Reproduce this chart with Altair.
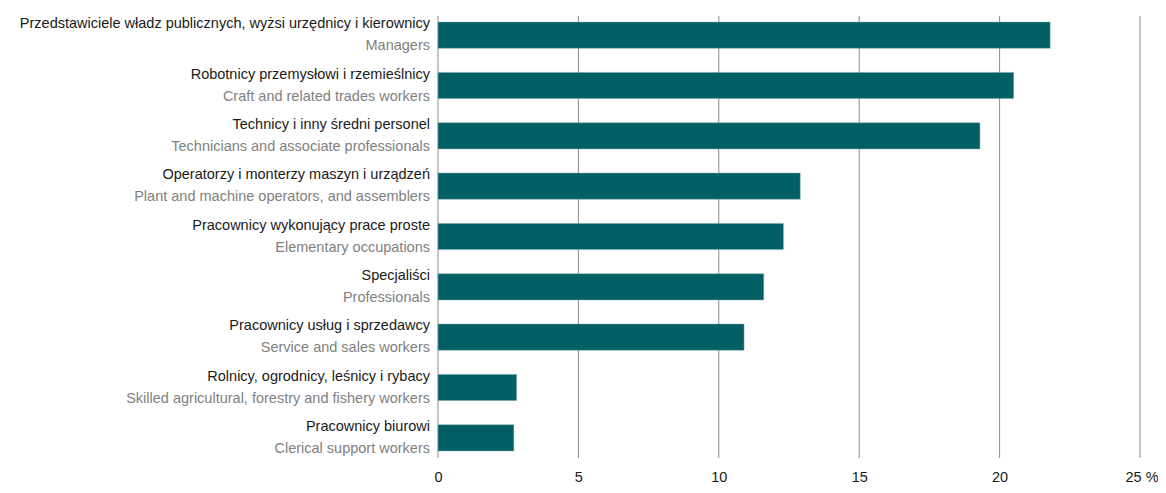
import altair as alt
import pandas as pd

polish = [
    "Przedstawiciele władz publicznych, wyżsi urzędnicy i kierownicy",
    "Robotnicy przemysłowi i rzemieślnicy",
    "Technicy i inny średni personel",
    "Operatorzy i monterzy maszyn i urządzeń",
    "Pracownicy wykonujący prace proste",
    "Specjaliści",
    "Pracownicy usług i sprzedawcy",
    "Rolnicy, ogrodnicy, leśnicy i rybacy",
    "Pracownicy biurowi",
]
english = [
    "Managers",
    "Craft and related trades workers",
    "Technicians and associate professionals",
    "Plant and machine operators, and assemblers",
    "Elementary occupations",
    "Professionals",
    "Service and sales workers",
    "Skilled agricultural, forestry and fishery workers",
    "Clerical support workers",
]
values = [21.8, 20.5, 19.3, 12.9, 12.3, 11.6, 10.9, 2.8, 2.7]
ticks = [0, 5, 10, 15, 20, 25]

df = pd.DataFrame({"pl": polish, "en": english, "value": values})
gdf = pd.DataFrame({"t": ticks})

FONT = "Liberation Sans, Arial, sans-serif"
FS = 14.5
W, H = 702, 453

xscale = alt.Scale(domain=[0, 25], nice=False)
yenc = alt.Y("pl:N", sort=polish, axis=None,
             scale=alt.Scale(paddingInner=0.48, paddingOuter=0.24))

grid = alt.Chart(gdf).mark_rule(color="#8c8c8c", strokeWidth=1).encode(
    x=alt.X("t:Q", scale=xscale, axis=alt.Axis(
        values=ticks, title=None, domain=False, ticks=False, grid=False,
        labelFont=FONT, labelFontSize=14.5, labelColor="#1a1a1a", labelPadding=7,
        labelExpr="datum.value == 25 ? '25 %' : datum.label",
        labelAlign={"condition": {"test": "datum.value == 25", "value": "left"}, "value": "center"},
        labelOffset={"condition": {"test": "datum.value == 25", "value": -15}, "value": 0},
    )),
    y=alt.value(6), y2=alt.value(448),
)

bars = alt.Chart(df).mark_bar(color="#025f63", stroke="#7fa9ab", strokeWidth=0.5).encode(
    x=alt.X("value:Q", scale=xscale),
    y=yenc,
)

pl_text = alt.Chart(df).mark_text(align="right", baseline="middle", dy=-11,
                                  font=FONT, fontSize=FS, color="#1a1a1a").encode(
    x=alt.value(-8), y=yenc, text="pl:N")
en_text = alt.Chart(df).mark_text(align="right", baseline="middle", dy=11,
                                  font=FONT, fontSize=FS, color="#7f7f7f").encode(
    x=alt.value(-8), y=yenc, text="en:N")

chart = alt.layer(grid, bars, pl_text, en_text).properties(
    width=W, height=H,
    autosize=alt.AutoSizeParams(type="none"),
    padding={"left": 430, "top": 2, "right": 18, "bottom": 22},
).configure_view(stroke=None)

chart.save("out.html", embed_options={"renderer": "svg", "actions": False})
